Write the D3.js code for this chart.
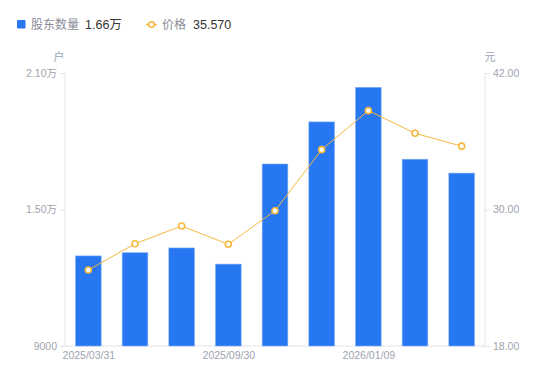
<!DOCTYPE html>
<html>
<head>
<meta charset="utf-8">
<script src="https://cdn.jsdelivr.net/npm/d3@7"></script>
<style>
  body { margin: 0; background: #fff; }
  text { font-family: "Liberation Sans", "Noto Sans CJK SC", sans-serif; }
</style>
</head>
<body>
<svg id="chart" width="550" height="381"></svg>
<script>
// data
const dates = ["2025/03/31", "2025/06/30", "2025/08/29", "2025/09/30", "2025/10/31",
               "2025/12/10", "2026/01/09", "2026/01/20", "2026/01/30"];
const holders = [12960, 13100, 13310, 12600, 17000, 18850, 20370, 17210, 16600];
const prices = [24.68, 26.99, 28.55, 26.94, 29.89, 35.26, 38.69, 36.70, 35.57];
const leftTicks = [9000, 15000, 21000];
const rightTicks = [18, 30, 42];
const shownDates = ["2025/03/31", "2025/09/30", "2026/01/09"];

const svg = d3.select("#chart");
const plotL = 65, plotR = 485, plotT = 73, plotB = 346;
const axisColor = "#e3e4e8", labelColor = "#a0a3ae";
const font = "'Liberation Sans', 'Noto Sans CJK SC', sans-serif";

const x = d3.scaleBand().domain(dates).range([plotL, plotR]).paddingInner(0.45).paddingOuter(0.225);
const xc = d3.scalePoint().domain(dates).range([plotL, plotR]).padding(0.5);
const yL = d3.scaleLinear().domain([9000, 21000]).range([plotB, plotT]);
const yR = d3.scaleLinear().domain([18, 42]).range([plotB, plotT]);

const fmtL = v => v >= 10000 ? (v / 10000).toFixed(2) + "万" : String(v);

// left axis
const gl = svg.append("g").attr("transform", `translate(${plotL},0)`)
    .call(d3.axisLeft(yL).tickValues(leftTicks).tickFormat(fmtL).tickSize(5).tickPadding(3));
// right axis
const gr = svg.append("g").attr("transform", `translate(${plotR},0)`)
    .call(d3.axisRight(yR).tickValues(rightTicks).tickFormat(d => d.toFixed(2)).tickSize(5).tickPadding(3));
// bottom axis
const gb = svg.append("g").attr("transform", `translate(0,${plotB})`)
    .call(d3.axisBottom(xc).tickValues(shownDates).tickSize(0).tickPadding(6));

[gl, gr, gb].forEach(g => {
  g.select(".domain").attr("stroke", axisColor);
  g.selectAll(".tick line").attr("stroke", axisColor);
  g.selectAll(".tick text").attr("fill", labelColor).style("font-size", "10.5px")
    .style("font-family", font);
});
gl.select(".domain").attr("d", `M0,${plotT}V${plotB}`);
gr.select(".domain").attr("d", `M0,${plotT}V${plotB}`);
gb.select(".domain").attr("d", `M${plotL},0H${plotR}`);

// units
svg.append("text").attr("x", 59).attr("y", 61).attr("text-anchor", "middle")
  .attr("fill", labelColor).style("font-size", "11px").text("户");
svg.append("text").attr("x", 490).attr("y", 61).attr("text-anchor", "middle")
  .attr("fill", labelColor).style("font-size", "11px").text("元");

// bars
svg.append("g").selectAll("rect").data(holders).join("rect")
  .attr("x", (d, i) => x(dates[i]))
  .attr("y", d => yL(d))
  .attr("width", x.bandwidth())
  .attr("height", d => plotB - yL(d))
  .attr("fill", "#2777f3")
  .attr("stroke", "#7eaef7")
  .attr("stroke-width", 0.6);

// price line
const line = d3.line().x((d, i) => xc(dates[i])).y(d => yR(d));
svg.append("path").datum(prices)
  .attr("d", line).attr("fill", "none")
  .attr("stroke", "#f7b73f").attr("stroke-width", 1);
svg.append("g").selectAll("circle").data(prices).join("circle")
  .attr("cx", (d, i) => xc(dates[i]))
  .attr("cy", d => yR(d))
  .attr("r", 3)
  .attr("fill", "#fff")
  .attr("stroke", "#f7b73f")
  .attr("stroke-width", 1.6);

// legend
const lg = svg.append("g");
lg.append("rect").attr("x", 17).attr("y", 20).attr("width", 8.5).attr("height", 8.5)
  .attr("rx", 1).attr("fill", "#2777f3");
lg.append("text").attr("x", 31).attr("y", 29).attr("fill", "#8a8d98")
  .style("font-size", "12px").text("股东数量");
lg.append("text").attr("x", 85).attr("y", 29).attr("fill", "#333")
  .style("font-size", "12.5px").text(fmtL(holders[holders.length - 1]));

lg.append("line").attr("x1", 146).attr("x2", 157).attr("y1", 24.5).attr("y2", 24.5)
  .attr("stroke", "#f7b73f").attr("stroke-width", 1.5);
lg.append("circle").attr("cx", 151.5).attr("cy", 24.5).attr("r", 2.8)
  .attr("fill", "#fff").attr("stroke", "#f7b73f").attr("stroke-width", 1.6);
lg.append("text").attr("x", 162).attr("y", 29).attr("fill", "#8a8d98")
  .style("font-size", "12px").text("价格");
lg.append("text").attr("x", 193).attr("y", 29).attr("fill", "#333")
  .style("font-size", "12.5px").text(prices[prices.length - 1].toFixed(3));
</script>
</body>
</html>
